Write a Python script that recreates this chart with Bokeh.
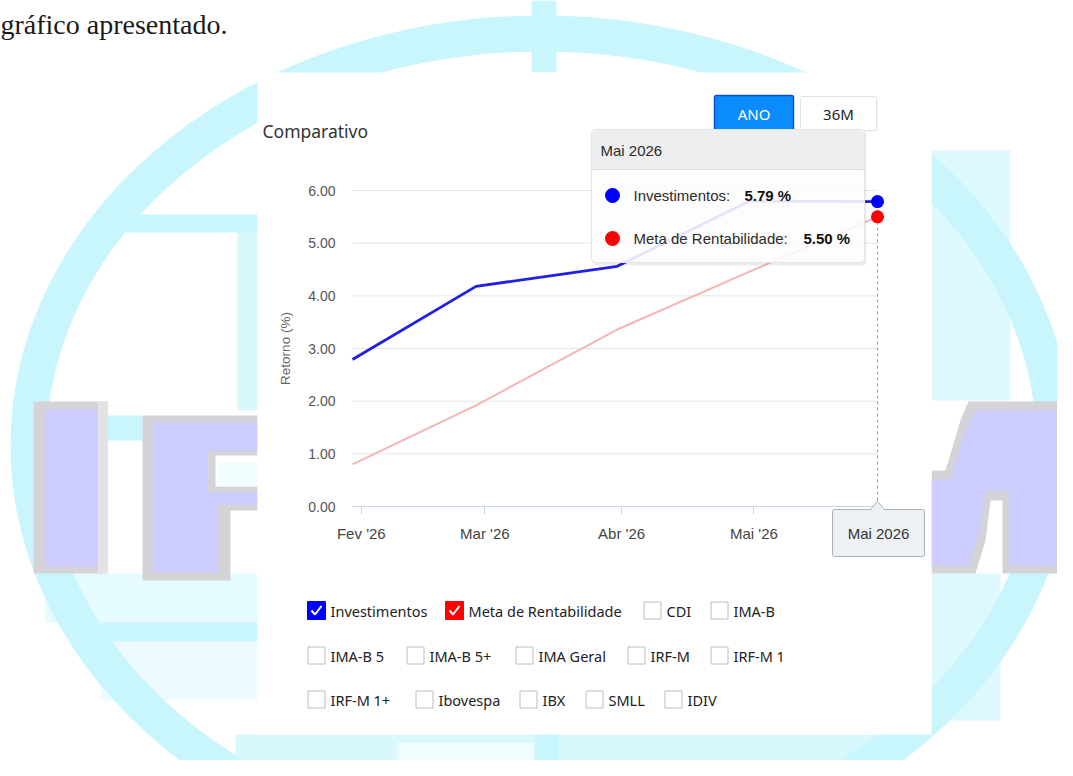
import pandas as pd
from bokeh.plotting import figure
from bokeh.models import Range1d, LinearAxis, FixedTicker, NumeralTickFormatter
from bokeh.core.properties import value
from bokeh.embed import file_html
from bokeh.resources import INLINE

# ---------------- data ----------------
datas = ["2026-01-30", "2026-02-27", "2026-03-31", "2026-04-30", "2026-05-29"]
investimentos = [2.79, 4.18, 4.56, 5.80, 5.79]
meta_rentabilidade = [0.80, 1.92, 3.36, 4.46, 5.50]
tick_datas = ["2026-02-01", "2026-03-01", "2026-04-01", "2026-05-01"]
tick_rotulos = ["Fev '26", "Mar '26", "Abr '26", "Mai '26"]
y_ticks = [0, 1, 2, 3, 4, 5, 6]
meses_pt = ["Jan", "Fev", "Mar", "Abr", "Mai", "Jun", "Jul", "Ago", "Set", "Out", "Nov", "Dez"]
linhas_legenda = [
    ["Investimentos", "Meta de Rentabilidade", "CDI", "IMA-B"],
    ["IMA-B 5", "IMA-B 5+", "IMA Geral", "IRF-M", "IRF-M 1"],
    ["IRF-M 1+", "Ibovespa", "IBX", "SMLL", "IDIV"],
]
cores_series = {"Investimentos": "#0000ff", "Meta de Rentabilidade": "#ff0000"}
periodos = ["ANO", "36M"]
titulo = "Comparativo"
texto_pagina = "gráfico apresentado."

# ---------------- geometry (screen px) ----------------
W, H = 1057, 760
OX, OY = 0, 0
FX0, FX1 = 352, 877      # first / last date
FY0, FY6 = 506, 190      # value 0 / value 6

base = pd.Timestamp("2026-01-01")
days = [int((pd.Timestamp(d) - base).days) for d in datas]
tick_days = [int((pd.Timestamp(d) - base).days) for d in tick_datas]

ppd = (FX1 - FX0) / (days[-1] - days[0])
ppu = (FY0 - FY6) / (y_ticks[-1] - y_ticks[0])
d_start = days[0] + (OX - FX0) / ppd
d_end = days[0] + (OX + W - FX0) / ppd
r_bottom = (FY0 - (OY + H)) / ppu
r_top = (FY0 - OY) / ppu

p = figure(width=W, height=H, x_range=Range1d(OX, OX + W), y_range=Range1d(OY + H, OY),
           min_border=0, toolbar_location=None, output_backend="svg",
           x_axis_location=None, y_axis_location=None, outline_line_color=None,
           background_fill_color="white", border_fill_color="white")
p.grid.visible = False
p.extra_x_ranges = {"d": Range1d(d_start, d_end)}
p.extra_y_ranges = {"r": Range1d(r_bottom, r_top)}

ARIAL = "Liberation Sans"
UI = "Noto Sans"


def txt(x, y, s, size, color, font, align="left", baseline="middle", style="normal", level="glyph"):
    r = p.text(x=[x], y=[y], text=[s], text_font=value(font), text_font_size=size,
               text_color=color, text_align=align, text_baseline=baseline,
               text_font_style=style)
    r.level = level
    return r


def box(l, r, t, b, fill, line=None, lw=1, alpha=1.0, level="glyph", radius=0):
    kw = dict(left=[l], right=[r], top=[t], bottom=[b], fill_color=fill, fill_alpha=alpha,
              line_color=line, line_width=lw)
    if radius:
        kw["border_radius"] = radius
    g = p.quad(**kw)
    g.level = level
    return g


# ---------------- background watermark ----------------
CY = "#c8f6fc"
box(931, 1010, 150, 400, "#def9fd")
box(931, 1000, 573, 720, "#def9fd")
box(237, 257, 232, 410, "#d8f8fc")
box(45, 257, 573, 622, "#e6fbfe")
box(100, 257, 641, 700, "#ecfcfe")
box(235, 905, 734, 776, "#d9f8fc")
box(397, 534, 742, 776, "#effdfe")
p.ellipse(x=[541], y=[445], width=[2 * (531 - 18)], height=[2 * (430 - 18)],
          fill_color=None, line_color=CY, line_width=36)
box(117, 257, 214, 232, CY)
box(107, 142, 415, 440, CY)
box(100, 257, 622, 641, CY)
box(531, 556, 0, 72, CY)
box(534, 558, 734, 776, CY)

GR, LAV = "#d3d3d8", "#ccccff"
# I
box(33, 107, 401, 573, GR)
box(97, 107, 401, 573, "#e3e3e6")
box(45, 97, 409, 566, LAV)
# P
p.patch([142, 257, 257, 215, 215, 257, 257, 230, 230, 142],
        [415, 415, 455, 455, 486, 486, 510, 510, 580, 580], fill_color=GR, line_color=None)
p.patch([152, 257, 257, 207, 207, 257, 257, 217, 217, 152],
        [422, 422, 450, 450, 492, 492, 504, 504, 572, 572], fill_color=LAV, line_color=None)
box(217, 257, 462, 486, "#f2fdfe")
# M
p.patch([931, 945, 960, 968, 1063, 1063, 1002, 1002, 990, 985, 975, 931],
        [470, 470, 420, 401, 401, 573, 573, 500, 500, 540, 573, 573], fill_color=GR, line_color=None)
p.patch([931, 950, 965, 975, 1055, 1055, 1008, 1008, 985, 978, 968, 931],
        [480, 478, 430, 410, 410, 565, 565, 490, 490, 535, 565, 565], fill_color=LAV, line_color=None)

# page text
txt(0, 24, texto_pagina, "28px", "#1a1a1a", "Liberation Serif", baseline="alphabetic")

# ---------------- card ----------------
box(257, 931, 72, 734, "white")

txt(262, 130, titulo, "17.5px", "#333333", UI)

# period buttons
box(801, 877, 97, 131, "#000000", alpha=0.06, radius=2)
box(800, 876, 96, 130, "white", line="#e2e2e2", radius=2)
box(714, 793, 95, 131, "#0a8cff", line="#0a4fd8", lw=1.5, radius=2)
txt(753.5, 113.5, periodos[0], "15px", "white", UI, align="center")
txt(838, 113.5, periodos[1], "15px", "#222222", UI, align="center")

# ---------------- chart ----------------
R = dict(x_range_name="d", y_range_name="r")
grid_vals = [v for v in y_ticks if v != 0]
p.segment(x0=[days[0]] * len(grid_vals), x1=[days[-1]] * len(grid_vals), y0=grid_vals, y1=grid_vals,
          line_color="#e6e6e6", line_width=1, **R)

p.line(days, meta_rentabilidade, line_color="#f6b4b4", line_width=2, **R)
p.line(days, investimentos, line_color="#1f1fe6", line_width=2.8, **R)

p.segment(x0=[days[-1]], x1=[days[-1]], y0=[y_ticks[0]], y1=[investimentos[-1]],
          line_color="#9a9a9a", line_width=1, line_dash="3 3", **R)
p.scatter([days[-1]], [investimentos[-1]], size=13, fill_color="#0000ff", line_color=None, **R)
p.scatter([days[-1]], [meta_rentabilidade[-1]], size=13, fill_color="#ff0000", line_color=None, **R)

xaxis = LinearAxis(x_range_name="d", y_range_name="r", fixed_location=0,
                   bounds=(days[0], days[-1]), ticker=FixedTicker(ticks=tick_days),
                   major_label_overrides={d: l for d, l in zip(tick_days, tick_rotulos)})
xaxis.axis_line_color = "#ccd6eb"
xaxis.major_tick_line_color = "#ccd6eb"
xaxis.major_tick_out = 8
xaxis.major_tick_in = 0
xaxis.minor_tick_line_color = None
xaxis.major_label_standoff = 10
xaxis.major_label_text_font = ARIAL
xaxis.major_label_text_font_size = "15px"
xaxis.major_label_text_color = "#444444"
p.add_layout(xaxis, "below")

yaxis = LinearAxis(x_range_name="d", y_range_name="r", fixed_location=days[0],
                   bounds=(y_ticks[0], y_ticks[-1]), ticker=FixedTicker(ticks=y_ticks),
                   formatter=NumeralTickFormatter(format="0.00"), axis_label="Retorno (%)")
yaxis.axis_line_color = None
yaxis.major_tick_line_color = None
yaxis.minor_tick_line_color = None
yaxis.major_tick_out = 0
yaxis.major_tick_in = 0
yaxis.major_label_standoff = 17
yaxis.major_label_text_font = ARIAL
yaxis.major_label_text_font_size = "14px"
yaxis.major_label_text_color = "#555555"
yaxis.axis_label_text_font = ARIAL
yaxis.axis_label_text_font_size = "13.5px"
yaxis.axis_label_text_font_style = "normal"
yaxis.axis_label_text_color = "#666666"
yaxis.axis_label_standoff = 12
p.add_layout(yaxis, "left")

# ---------------- tooltip ----------------
ultimo = pd.Timestamp(datas[-1])
rotulo_mes = f"{meses_pt[ultimo.month - 1]} {ultimo.year}"
TL, TR_, TT, TB = 591, 864, 129, 262
box(TL + 1, TR_ + 2, TT + 2, TB + 3, "#000000", alpha=0.07, level="overlay", radius=4)
box(TL, TR_, TT, TB, "white", line="#e4e4e4", alpha=0.88, level="overlay", radius=4)
box(TL + 0.5, TR_ - 0.5, TT + 0.5, 169, "#eceef0", level="overlay", radius=3)
seg = p.segment(x0=[TL], x1=[TR_], y0=[169], y1=[169], line_color="#d9dbdd", line_width=1)
seg.level = "overlay"
txt(600, 149.5, rotulo_mes, "15px", "#2b2b2b", ARIAL, level="overlay")

nomes_tt = ["Investimentos", "Meta de Rentabilidade"]
vals_tt = [investimentos[-1], meta_rentabilidade[-1]]
row_y_tt = [195, 238]
val_x_tt = [744, 803]
for nome, v, yy, vx in zip(nomes_tt, vals_tt, row_y_tt, val_x_tt):
    d = p.scatter([612], [yy], size=15, fill_color=cores_series[nome], line_color=None)
    d.level = "overlay"
    txt(633, yy, f"{nome}:", "15px", "#2b2b2b", ARIAL, level="overlay")
    txt(vx, yy, f"{v:.2f} %", "15px", "#111111", ARIAL, style="bold", level="overlay")

# crosshair label
CL, CR, CT, CB = 832, 924, 509, 556
box(CL, CR, CT, CB, "#eef1f3", line="#a9b0b6", level="overlay", radius=2)
tri = p.patch([870, 877, 884], [CT + 0.5, CT - 8, CT + 0.5], fill_color="#eef1f3", line_color=None)
tri.level = "overlay"
tl = p.multi_line([[870, 877, 884]], [[CT, CT - 8, CT]], line_color="#a9b0b6", line_width=1)
tl.level = "overlay"
txt(878, 533, rotulo_mes, "15px", "#333333", ARIAL, align="center", level="overlay")

# ---------------- checkbox legend ----------------
row_y = [610, 655, 699]
box_x = [[307, 445, 643, 710], [307, 406, 515, 627, 710], [307, 415, 519, 585, 664]]
for nomes, xs, ry in zip(linhas_legenda, box_x, row_y):
    for nome, bx in zip(nomes, xs):
        cor = cores_series.get(nome)
        if cor:
            box(bx, bx + 18, ry - 9, ry + 9, cor, line=cor)
            p.line([bx + 4, bx + 7.5, bx + 14], [ry, ry + 4, ry - 4.5], line_color="white", line_width=2)
        else:
            box(bx + 0.5, bx + 17.5, ry - 8.5, ry + 8.5, "white", line="#bcbcbc")
        txt(bx + 23, ry, nome, "14.5px", "#222222", UI)

open("out.html", "w").write(file_html(p, INLINE))
